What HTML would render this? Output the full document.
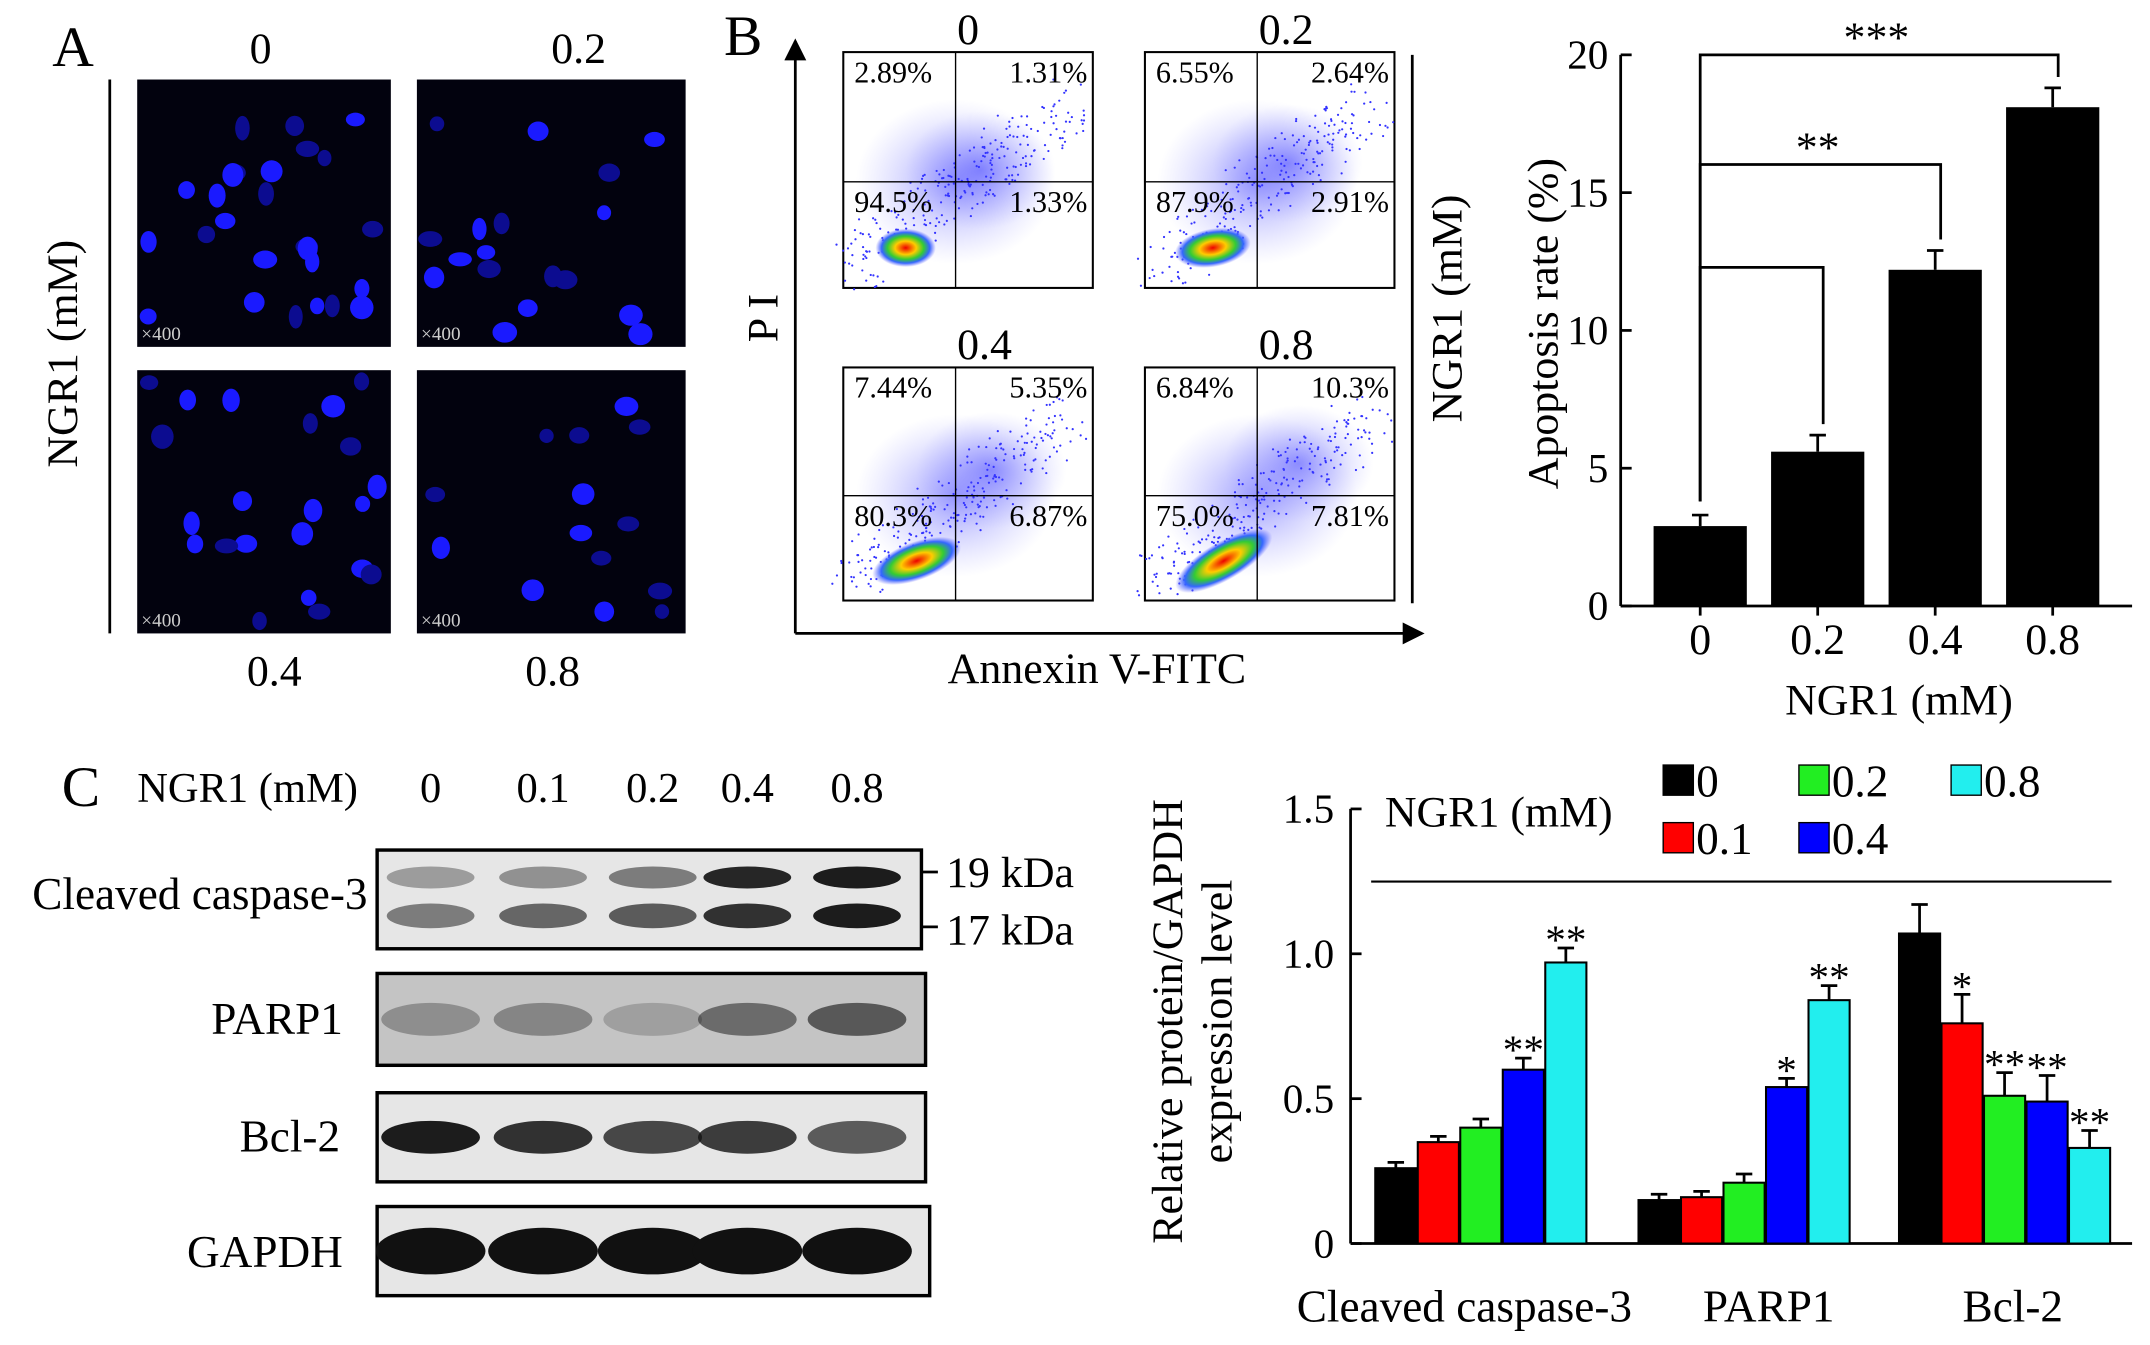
<!DOCTYPE html>
<html><head><meta charset="utf-8"><style>
body{margin:0;background:#fff}
svg{display:block;font-family:"Liberation Serif",serif}
</style></head><body>
<svg id="fig" width="2150" height="1345" viewBox="0 0 1568 981" xmlns="http://www.w3.org/2000/svg">
<defs>
<radialGradient id="hot" cx="50%" cy="50%" r="50%">
<stop offset="0" stop-color="#e00"/><stop offset="0.35" stop-color="#fc0"/><stop offset="0.6" stop-color="#3c3"/><stop offset="0.8" stop-color="#36f"/><stop offset="1" stop-color="#66f" stop-opacity="0"/>
</radialGradient>
<radialGradient id="cloud" cx="50%" cy="50%" r="50%">
<stop offset="0" stop-color="#55f" stop-opacity="0.6"/><stop offset="1" stop-color="#99f" stop-opacity="0"/>
</radialGradient>
<marker id="arr" markerWidth="8" markerHeight="8" refX="7" refY="4" orient="auto"><path d="M0,0 L8,4 L0,8 z" fill="#000"/></marker>
</defs>

<!-- Panel A -->
<g font-size="32">
<text x="38" y="48" font-size="42">A</text>
<text x="190" y="46" text-anchor="middle">0</text>
<text x="422" y="46" text-anchor="middle">0.2</text>
<text x="200" y="500" text-anchor="middle">0.4</text>
<text x="403" y="500" text-anchor="middle">0.8</text>
<line x1="80" y1="58" x2="80" y2="462" stroke="#000" stroke-width="2"/>
<text transform="translate(56,258) rotate(-90)" text-anchor="middle">NGR1 (mM)</text>
<g id="fluo"></g>
</g>

<!-- Panel B -->
<g font-size="26">
<text x="528" y="40" font-size="42">B</text>
<line x1="580" y1="462" x2="580" y2="30" stroke="#000" stroke-width="2" marker-end="url(#arr)"/>
<line x1="580" y1="462" x2="1037" y2="462" stroke="#000" stroke-width="2" marker-end="url(#arr)"/>
<text transform="translate(567,232) rotate(-90)" text-anchor="middle" font-size="32">P I</text>
<text x="800" y="498" text-anchor="middle" font-size="32">Annexin V-FITC</text>
<line x1="1030" y1="40" x2="1030" y2="440" stroke="#000" stroke-width="2"/>
<text transform="translate(1066,225) rotate(-90)" text-anchor="middle" font-size="32">NGR1 (mM)</text>
<text x="706" y="32" text-anchor="middle" font-size="32">0</text>
<text x="938" y="32" text-anchor="middle" font-size="32">0.2</text>
<text x="718" y="262" text-anchor="middle" font-size="32">0.4</text>
<text x="938" y="262" text-anchor="middle" font-size="32">0.8</text>
<g id="flow"></g>
</g>

<g id="apop" font-size="30"></g>

<!-- Panel C -->
<g font-size="31">
<text x="45" y="588" font-size="42">C</text>
<text x="100" y="585">NGR1 (mM)</text>
<text x="314" y="585" text-anchor="middle">0</text>
<text x="396" y="585" text-anchor="middle">0.1</text>
<text x="476" y="585" text-anchor="middle">0.2</text>
<text x="545" y="585" text-anchor="middle">0.4</text>
<text x="625" y="585" text-anchor="middle">0.8</text>
<text x="268" y="663" text-anchor="end" font-size="33">Cleaved caspase-3</text>
<text x="250" y="754" text-anchor="end" font-size="33">PARP1</text>
<text x="248" y="840" text-anchor="end" font-size="33">Bcl-2</text>
<text x="250" y="924" text-anchor="end" font-size="33">GAPDH</text>
<line x1="672" y1="636" x2="684" y2="636" stroke="#000" stroke-width="2"/>
<line x1="672" y1="676" x2="684" y2="676" stroke="#000" stroke-width="2"/>
<text x="690" y="647" font-size="32">19 kDa</text>
<text x="690" y="689" font-size="32">17 kDa</text>
<g id="blots"></g>
</g>

<g id="grp" font-size="30"></g>
</svg>
<script>
const NS="http://www.w3.org/2000/svg";
function mk(parent,tag,attrs,text){const e=document.createElementNS(NS,tag);for(const k in attrs)e.setAttribute(k,attrs[k]);if(text!==undefined)e.textContent=text;parent.appendChild(e);return e;}

// ---------- Apoptosis bar chart data ----------
const apopCategories=["0","0.2","0.4","0.8"];
const apopValues=[2.9,5.6,12.2,18.1];
const apopErrors=[0.4,0.6,0.7,0.7];
const apopTicks=[0,5,10,15,20];

// ---------- Grouped protein chart data ----------
const proteinGroups=["Cleaved caspase-3","PARP1","Bcl-2"];
const doseLabels=["0","0.1","0.2","0.4","0.8"];
const caspaseValues=[0.26,0.35,0.40,0.60,0.97];
const parpValues=[0.15,0.16,0.21,0.54,0.84];
const bclValues=[1.07,0.76,0.51,0.49,0.33];
const caspaseErrors=[0.02,0.02,0.03,0.04,0.05];
const parpErrors=[0.02,0.02,0.03,0.03,0.05];
const bclErrors=[0.10,0.10,0.08,0.09,0.06];
const caspaseStars=["","","","**","**"];
const parpStars=["","","","*","**"];
const bclStars=["","*","**","**","**"];
const proteinTicks=[0,0.5,1.0,1.5];
const doseColors=["#000","#f00","#2e2","#00f","#2ee"];

let seed=7;function rnd(){seed=(seed*16807)%2147483647;return seed/2147483647;}

// Fluorescence images
(function(){
const g=document.getElementById('fluo');
const boxes=[[100,58,185,195,26],[304,58,196,195,18],[100,270,185,192,22],[304,270,196,192,14]];
boxes.forEach((b,i)=>{
 const r=mk(g,'rect',{x:b[0],y:b[1],width:b[2],height:b[3],fill:'#02020e'});
 
 
 for(let k=0;k<b[4];k++){
  mk(g,'ellipse',{cx:b[0]+8+rnd()*(b[2]-16),cy:b[1]+8+rnd()*(b[3]-16),rx:5+rnd()*4,ry:5+rnd()*4,fill:rnd()>0.4?'#1a1aff':'#0c0c90'});
 }
 mk(g,'text',{x:b[0]+3,y:b[1]+b[3]-5,fill:'#ccc','font-size':14},'×400');
});
})();

// Flow plots
(function(){
const g=document.getElementById('flow');
const P=[[615,38,182,172,["2.89%","1.31%","94.5%","1.33%"],0],[835,38,182,172,["6.55%","2.64%","87.9%","2.91%"],1],[615,268,182,170,["7.44%","5.35%","80.3%","6.87%"],2],[835,268,182,170,["6.84%","10.3%","75.0%","7.81%"],3]];
P.forEach((p,i)=>{
 const [x,y,w,h,labs,lvl]=p;
 const r=mk(g,'rect',{x:x,y:y,width:w,height:h,fill:'#fff',stroke:'#000','stroke-width':1.5});
 
 
 mk(g,'ellipse',{cx:x+w*0.45,cy:y+h*0.55,rx:w*0.4,ry:h*0.35,fill:'url(#cloud)'});
 mk(g,'ellipse',{cx:x+w*0.55+lvl*4,cy:y+h*0.5-lvl*5,rx:w*0.3,ry:h*0.25,fill:'url(#cloud)'});
 for(let k=0;k<260;k++){
  const t=rnd();mk(g,'circle',{cx:x+10+t*(w*0.85)+ (rnd()-0.5)*40,cy:y+h-15-t*(h*0.7)+(rnd()-0.5)*40,r:0.8,fill:'#33f'});
 }
 mk(g,'ellipse',{cx:x+w*0.25+lvl*4,cy:y+h*0.83,rx:22+lvl*6,ry:14,fill:'url(#hot)',transform:`rotate(${-lvl*10} ${x+w*0.25+lvl*4} ${y+h*0.83})`});
 const qx=x+w*0.45,qy=y+h*0.55;
 mk(g,'line',{x1:qx,y1:y,x2:qx,y2:y+h,stroke:'#000','stroke-width':1});
 mk(g,'line',{x1:x,y1:qy,x2:x+w,y2:qy,stroke:'#000','stroke-width':1});
 mk(g,'text',{x:x+8,y:y+22,'font-size':22},labs[0]);
 mk(g,'text',{x:x+w-4,y:y+22,'font-size':22,'text-anchor':'end'},labs[1]);
 mk(g,'text',{x:x+8,y:qy+22,'font-size':22},labs[2]);
 mk(g,'text',{x:x+w-4,y:qy+22,'font-size':22,'text-anchor':'end'},labs[3]);
});
})();

// Apoptosis chart
(function(){
const g=document.getElementById('apop');
const x0=1182,x1=1555,yb=442,yt=40,vmax=20;
const Y=v=>yb-(v/vmax)*(yb-yt);
const X=i=>1240+i*85.7;
mk(g,'line',{x1:x0,y1:yt,x2:x0,y2:yb,stroke:'#000','stroke-width':2});
mk(g,'line',{x1:x0,y1:yb,x2:x1,y2:yb,stroke:'#000','stroke-width':2});
apopTicks.forEach(t=>{mk(g,'line',{x1:x0,y1:Y(t),x2:x0+8,y2:Y(t),stroke:'#000','stroke-width':2});
 const tl=mk(g,'text',{x:x0-9,y:Y(t)+10,'text-anchor':'end'},String(t));
 });
apopValues.forEach((v,i)=>{
 const b=mk(g,'rect',{x:X(i)-34,y:Y(v),width:68,height:yb-Y(v),fill:'#000'});
 
 
 mk(g,'line',{x1:X(i),y1:Y(v),x2:X(i),y2:Y(v+apopErrors[i]),stroke:'#000','stroke-width':2});
 mk(g,'line',{x1:X(i)-6,y1:Y(v+apopErrors[i]),x2:X(i)+6,y2:Y(v+apopErrors[i]),stroke:'#000','stroke-width':2});
 mk(g,'line',{x1:X(i),y1:yb,x2:X(i),y2:yb+7,stroke:'#000','stroke-width':2});
 const tl=mk(g,'text',{x:X(i),y:yb+35,'text-anchor':'middle','font-size':32},apopCategories[i]);
 
});
const brk=[[3,yt,"***"],[2,120,"**"],[1,195,""]];
brk.forEach(b=>{const [j,yy,s]=b;
 mk(g,'polyline',{points:`${X(0)},${Y(apopValues[0]+apopErrors[0])-10} ${X(0)},${yy} ${X(j)+4},${yy} ${X(j)+4},${Y(apopValues[j]+apopErrors[j])-8}`,fill:'none',stroke:'#000','stroke-width':2});
 if(s)mk(g,'text',{x:(X(0)+X(j))/2,y:yy-2,'text-anchor':'middle','font-size':32},s);
});
const t1=mk(g,'text',{x:1385,y:521,'text-anchor':'middle','font-size':32},'NGR1 (mM)');

const t2=mk(g,'text',{transform:'translate(1136,236) rotate(-90)','text-anchor':'middle','font-size':32},'Apoptosis rate  (%)');

})();

// Blots
(function(){
const g=document.getElementById('blots');
const lanes=[314,396,476,545,625];
const boxes=[[275,620,397,72,'caspase'],[275,710,400,67,'parp1'],[275,797,400,65,'bcl2'],[275,880,403,65,'gapdh']];
const inten={caspase:[[0.35,0.5],[0.4,0.6],[0.5,0.65],[0.9,0.85],[0.95,0.95]],parp1:[0.3,0.35,0.2,0.5,0.6],bcl2:[0.95,0.85,0.75,0.8,0.65],gapdh:[1,1,1,1,1]};
boxes.forEach(b=>{
 const [x,y,w,h,n]=b;
 const r=mk(g,'rect',{x:x,y:y,width:w,height:h,fill:n==='parp1'?'#c4c4c4':'#e6e6e6',stroke:'#000','stroke-width':2.5});
 
 lanes.forEach((lx,i)=>{
  if(n==='caspase'){
   mk(g,'ellipse',{cx:lx,cy:y+20,rx:32,ry:8,fill:'#111','fill-opacity':inten[n][i][0]});
   mk(g,'ellipse',{cx:lx,cy:y+48,rx:32,ry:9,fill:'#111','fill-opacity':inten[n][i][1]});
  }else{
   mk(g,'ellipse',{cx:lx,cy:y+h/2,rx:n==='gapdh'?40:36,ry:n==='gapdh'?17:12,fill:'#111','fill-opacity':inten[n][i]});
  }
 });
});
})();

// Grouped chart
(function(){
const g=document.getElementById('grp');
const x0=985,x1=1555,yb=907,yt=590,vmax=1.5;
const Y=v=>yb-(v/vmax)*(yb-yt);
const groupStart=[1003,1195,1385];
const bw=30,step=31;
const vals=[caspaseValues,parpValues,bclValues];
const errs=[caspaseErrors,parpErrors,bclErrors];
const stars=[caspaseStars,parpStars,bclStars];
mk(g,'line',{x1:x0,y1:yt,x2:x0,y2:yb,stroke:'#000','stroke-width':2});
mk(g,'line',{x1:x0,y1:yb,x2:x1,y2:yb,stroke:'#000','stroke-width':2});
proteinTicks.forEach(t=>{mk(g,'line',{x1:x0,y1:Y(t),x2:x0+8,y2:Y(t),stroke:'#000','stroke-width':2});
 const tl=mk(g,'text',{x:x0-12,y:Y(t)+10,'text-anchor':'end'},t===0?'0':t.toFixed(1));
 });
vals.forEach((arr,gi)=>{
 arr.forEach((v,i)=>{
  const bx=groupStart[gi]+i*step;
  const b=mk(g,'rect',{x:bx,y:Y(v),width:bw,height:yb-Y(v),fill:doseColors[i],stroke:'#000','stroke-width':1.5});
  
  
  const cx=bx+bw/2,ye=Y(v+errs[gi][i]);
  mk(g,'line',{x1:cx,y1:Y(v),x2:cx,y2:ye,stroke:'#000','stroke-width':2});
  mk(g,'line',{x1:cx-6,y1:ye,x2:cx+6,y2:ye,stroke:'#000','stroke-width':2});
  if(stars[gi][i])mk(g,'text',{x:cx,y:ye+4,'text-anchor':'middle','font-size':30},stars[gi][i]);
 });
 const lx=[1068,1290,1468][gi];
 const tl=mk(g,'text',{x:lx,y:964,'text-anchor':'middle','font-size':33},proteinGroups[gi]);
 
});
const yt1=mk(g,'text',{transform:'translate(862,745) rotate(-90)','text-anchor':'middle','font-size':32},'Relative protein/GAPDH');

mk(g,'text',{transform:'translate(898,745) rotate(-90)','text-anchor':'middle','font-size':32},'expression level');
mk(g,'line',{x1:1000,y1:643,x2:1540,y2:643,stroke:'#000','stroke-width':1.5});
const lt=mk(g,'text',{x:1010,y:603,'font-size':32},'NGR1 (mM)');

const legPos=[[1213,578],[1213,620],[1312,578],[1312,620],[1423,578]];
doseLabels.forEach((d,i)=>{
 const [lx,ly]=legPos[i];
 const s=mk(g,'rect',{x:lx,y:ly-20,width:22,height:22,fill:doseColors[i],stroke:'#000','stroke-width':1});
 
 mk(g,'text',{x:lx+24,y:ly+3,'font-size':33},d);
});
})();
</script>
</body></html>
